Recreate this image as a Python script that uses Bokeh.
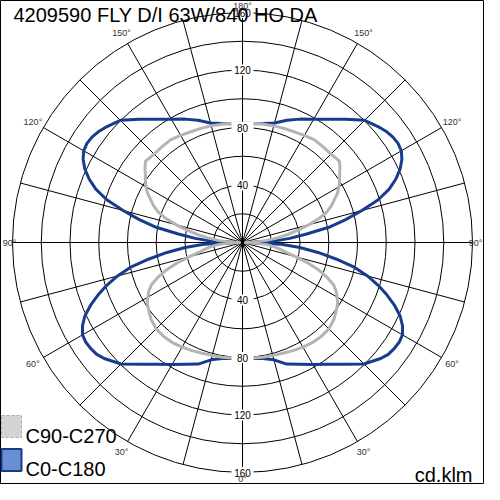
import numpy as np
from bokeh.plotting import figure
from bokeh.core.properties import value
from bokeh.embed import file_html
from bokeh.resources import INLINE

# ---------------- data ----------------
title_text = "4209590 FLY D/I 63W/840 HO DA"
unit_text = "cd.klm"
series_names = ["C90-C270", "C0-C180"]

gamma = [0, 5, 10, 15, 20, 25, 30, 35, 40, 45, 50,
         52.5, 55, 57.5, 60, 62.5, 65, 67.5, 70, 72.5, 75, 77.5, 80, 82.5, 85, 87.5,
         90,
         92.5, 95, 97.5, 100, 102.5, 105, 107.5, 110, 112.5, 115, 117.5, 120, 122.5, 125, 127.5,
         130, 135, 140, 145, 150, 155, 160, 165, 170, 175, 180]

c0_c180 = [80.5, 81, 82, 84.5, 90, 93.5, 98, 103.5, 110.5, 119.5, 125.5,
           127.8, 128.8, 129.2, 128.5, 125.5, 121, 114.5, 107, 99, 90, 80, 66, 53, 40, 27,
           3,
           22, 33, 45, 61, 73.5, 86, 99, 108.6, 115.5, 121, 125, 127.6, 128.3, 127.8, 126.5,
           124.5, 120.2, 112, 104.7, 99, 94.7, 90.5, 86, 84, 83, 82.8]

c90_c270 = [80.5, 80.7, 81, 81.3, 82, 83, 84, 85, 85.3, 85, 83,
            81.5, 80, 78.5, 76, 73.5, 70, 64, 57, 48, 38.5, 30.5, 26.5, 22, 17, 10,
            2,
            10, 17, 24.5, 31.7, 39.5, 48, 56, 62.5, 67, 70.5, 74.5, 77.5, 80, 82.5, 85.5,
            88, 87, 87, 87.2, 86, 85, 84.5, 84, 83.5, 83.2, 83]

ring_values = [20, 40, 60, 80, 100, 120, 140, 160]
ring_labels = [40, 80, 120, 160]
angle_ticks = [0, 30, 60, 90, 120, 150, 180]
spoke_step = 15

# ---------------- geometry ----------------
PX = 230.0                     # pixels for the outer ring (160)
k = 160.0 / PX                 # data units per pixel
W = 484
R = (W / 2) * k                # half extent of the frame in data units


def px_x(X):                   # page pixel -> data x  (centre at page 250)
    return (X - 250) * k


def px_y(Y):
    return (250 - Y) * k


FONT = value("Liberation Sans")

p = figure(width=W, height=W, x_range=(-R, R), y_range=(-R, R),
           output_backend="svg", toolbar_location=None, min_border=0,
           x_axis_type=None, y_axis_type=None)
p.grid.visible = False
p.outline_line_color = "black"
p.outline_line_width = 1
p.background_fill_color = "white"
p.border_fill_color = "white"

rmax = max(ring_values)

# rings
p.circle(x=[0] * len(ring_values), y=[0] * len(ring_values), radius=ring_values,
         fill_color=None, line_color="black", line_width=1)

# spokes
th = np.radians(np.arange(0, 360, spoke_step))
p.segment(x0=np.zeros(len(th)), y0=np.zeros(len(th)),
          x1=rmax * np.sin(th), y1=-rmax * np.cos(th),
          line_color="black", line_width=1)


def closed_curve(vals):
    g = np.radians(np.array(gamma, dtype=float))
    v = np.array(vals, dtype=float)
    xr = v * np.sin(g)
    yr = -v * np.cos(g)
    xs = np.concatenate([xr, (-xr)[::-1]])
    ys = np.concatenate([yr, yr[::-1]])
    return xs, ys


bx, by = closed_curve(c0_c180)
gx, gy = closed_curve(c90_c270)
BLUE = "#183c8c"
GREY = "#b4b4b4"
p.line(bx, by, line_color=BLUE, line_width=3, line_join="round")
p.line(gx, gy, line_color=GREY, line_width=3, line_join="round")

# ring labels (top and bottom) with white boxes
lx = [0] * (2 * len(ring_labels))
ly = [r for r in ring_labels] + [-r for r in ring_labels]
lt = [str(r) for r in ring_labels] * 2
p.rect(x=lx, y=ly, width=22, height=11, width_units="screen", height_units="screen",
       fill_color="white", line_color=None)
p.text(x=lx, y=ly, text=lt, text_font=FONT, text_font_size="10px",
       text_align="center", text_baseline="middle", text_color="black")

# angle labels
r_lab = 242 * k
ax, ay, at = [], [], []
for a in angle_ticks:
    sides = [1] if a in (0, 180) else [-1, 1]
    for s in sides:
        ar = np.radians(a)
        x = s * r_lab * np.sin(ar)
        y = -r_lab * np.cos(ar)
        x = float(np.clip(x, -233 * k, 233 * k))
        y = float(np.clip(y, -236 * k, 237 * k))
        ax.append(x)
        ay.append(y)
        at.append(f"{a}°")
p.text(x=ax, y=ay, text=at, text_font=FONT, text_font_size="9px",
       text_align="center", text_baseline="middle", text_color="#333333")

# legend
p.rect(x=[px_x(19)], y=[px_y(434)], width=20, height=22, width_units="screen",
       height_units="screen", fill_color="#d4d4d4", line_color="#a9a9a9",
       line_dash="3 2", line_width=1)
p.rect(x=[px_x(19)], y=[px_y(467.5)], width=20, height=22, width_units="screen",
       height_units="screen", fill_color="#6b8fd4", line_color=BLUE, line_width=2)
p.text(x=[px_x(33), px_x(33)], y=[px_y(443), px_y(476.5)], text=series_names,
       text_font=FONT, text_font_size="20px", text_align="left",
       text_baseline="alphabetic", text_color="black")

# unit
p.text(x=[px_x(480)], y=[px_y(482)], text=[unit_text], text_font=FONT,
       text_font_size="20px", text_align="right", text_baseline="alphabetic",
       text_color="black")

# title
p.text(x=[px_x(21)], y=[px_y(22)], text=[title_text], text_font=FONT,
       text_font_size="20px", text_align="left", text_baseline="alphabetic",
       text_color="black")

open("out.html", "w").write(file_html(p, INLINE))
